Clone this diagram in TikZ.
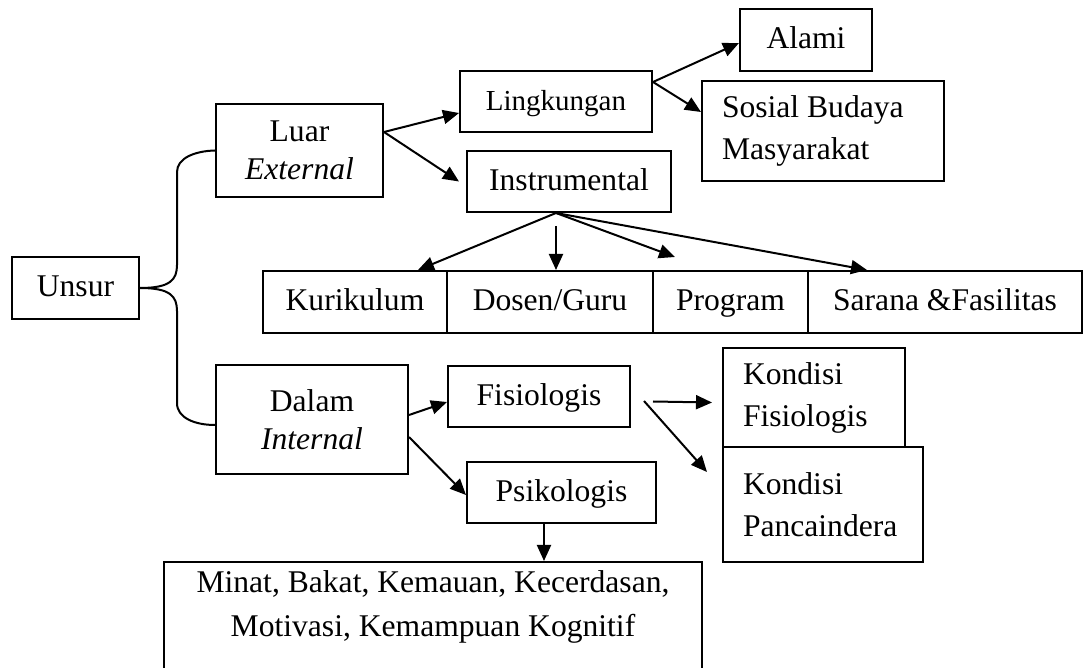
\documentclass[tikz,border=0pt]{standalone}
\usepackage{fontspec}
\setmainfont{Liberation Serif}
\usetikzlibrary{arrows.meta}

\begin{document}
\begin{tikzpicture}[x=0.5pt, y=-0.5pt,
    kotak/.style  = {rectangle, draw=black, fill=white, line width=1pt,
                     inner sep=0pt, align=center,
                     font=\fontsize{15.8}{19}\selectfont},
    satu/.style   = {kotak, text height=12pt, text depth=3pt},
    kotakkiri/.style = {kotak, align=flush left, inner xsep=10pt,
                     font=\fontsize{15.8}{21}\selectfont},
    teks/.style   = {font=\fontsize{15.8}{22}\selectfont, align=center,
                     inner sep=0pt},
    panah/.style  = {-{Triangle[length=8pt,width=7pt]}, draw=black,
                     line width=1pt},
    garis/.style  = {draw=black, line width=1pt},
  ]
  \clip (0,0) rectangle (1084,668);

  %-------------------------------------------------- unsur
  \node[satu, minimum width=63.5pt, minimum height=31pt] (U) at (75.5,288) {Unsur};

  %-------------------------------------------------- luar / dalam
  \node[kotak, minimum width=83.5pt, minimum height=46.5pt] (Lu) at (299.5,150.5)
    {Luar\\\textit{External}};
  \node[kotak, minimum width=96pt, minimum height=54.5pt] (Da) at (312,419.5)
    {Dalam\\\textit{Internal}};

  %-------------------------------------------------- cabang luar
  \node[satu, minimum width=96pt, minimum height=30.5pt,
        font=\fontsize{14.5}{17}\selectfont] (Li) at (556,101.5) {Lingkungan};
  \node[satu, minimum width=102pt, minimum height=30.5pt] (In) at (569,181.5)
    {Instrumental};
  \node[satu, minimum width=66pt, minimum height=31pt] (Al) at (806,40) {Alami};
  \node[kotakkiri, text width=101pt, minimum height=50pt] (So) at (823,131)
    {Sosial Budaya\\Masyarakat};

  %-------------------------------------------------- baris instrumental
  \node[satu, minimum width=92pt, minimum height=31pt] (Ku) at (355,302) {Kurikulum};
  \node[satu, minimum width=103pt, minimum height=31pt] (Do) at (550,302) {Dosen/Guru};
  \node[satu, minimum width=77.5pt, minimum height=31pt] (Pr) at (730.5,302) {Program};
  \node[satu, minimum width=137pt, minimum height=31pt] (Sa) at (945,302)
    {Sarana \&Fasilitas};

  %-------------------------------------------------- cabang dalam
  \node[satu, minimum width=91pt, minimum height=30.5pt] (Fi) at (539,396.5) {Fisiologis};
  \node[satu, minimum width=94.5pt, minimum height=30.5pt] (Ps) at (561.5,492.5) {Psikologis};
  \node[kotakkiri, text width=71pt, minimum height=49.5pt] (KF) at (814,397.5)
    {Kondisi\\Fisiologis};
  \node[kotakkiri, text width=80pt, minimum height=57.5pt] (KP) at (823,504.5)
    {Kondisi\\Pancaindera};

  \node[kotak, minimum width=269pt, minimum height=69pt] (M) at (433,631) {};
  \node[teks] at (433,607)
    {Minat, Bakat, Kemauan, Kecerdasan,\\Motivasi, Kemampuan Kognitif};

  %-------------------------------------------------- kurung unsur
  \draw[garis] (U.east) .. controls (170,288) and (177,280) .. (177,265)
    -- (177,172) .. controls (177,158) and (195,151) .. (Lu.west);
  \draw[garis] (U.east) .. controls (170,288) and (177,296) .. (177,311)
    -- (177,403) .. controls (177,418) and (195,425) .. ([yshift=-2.75pt]Da.west);

  %-------------------------------------------------- panah luar
  \draw[panah] ([yshift=9.25pt]Lu.east) -- ([yshift=-5.75pt]Li.west);
  \draw[panah] ([yshift=9.25pt]Lu.east) -- ([xshift=-3.5pt]In.west);
  \draw[panah] ([yshift=9.75pt]Li.east) -- ([yshift=-1.5pt]Al.west);
  \draw[panah] ([yshift=9.75pt]Li.east) -- ([yshift=9.5pt]So.west);

  \coordinate (fan) at ([xshift=-6.5pt]In.south);
  \draw[panah] (fan) -- ([xshift=31.5pt]Ku.north);
  \draw[panah] ([yshift=-6.5pt]fan) -- ([xshift=3pt]Do.north);
  \draw[panah] (fan) -- ([xshift=-27.75pt,yshift=6.5pt]Pr.north);
  \draw[panah] (fan) -- ([xshift=-39pt]Sa.north);

  %-------------------------------------------------- panah dalam
  \draw[panah] ([yshift=2.25pt]Da.east) -- ([yshift=-2.75pt]Fi.west);
  \draw[panah] ([yshift=-8.75pt]Da.east) -- ([yshift=-1.25pt]Ps.west);
  \draw[panah] ([xshift=11pt,yshift=-2.5pt]Fi.east) -- ([xshift=-5pt,yshift=-2.5pt]KF.west);
  \draw[panah] ([xshift=6.5pt,yshift=-2.25pt]Fi.east) -- ([xshift=-7.5pt,yshift=16.25pt]KP.west);

  \coordinate (ps) at ([xshift=-8.75pt]Ps.south);
  \draw[panah] (ps) -- (ps |- M.north);
\end{tikzpicture}
\end{document}
